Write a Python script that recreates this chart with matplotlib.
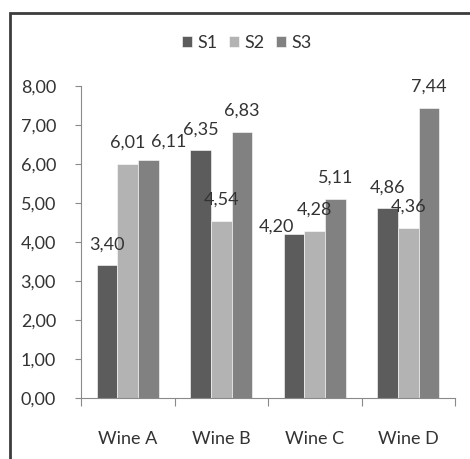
import matplotlib
matplotlib.use('Agg')
import matplotlib.pyplot as plt
import matplotlib.patches as patches
import numpy as np

# data
wines = ['Wine A', 'Wine B', 'Wine C', 'Wine D']
series_names = ['S1', 'S2', 'S3']
s1 = [3.40, 6.35, 4.20, 4.86]
s2 = [6.01, 4.54, 4.28, 4.36]
s3 = [6.11, 6.83, 5.11, 7.44]
yticks = [0, 1, 2, 3, 4, 5, 6, 7, 8]

colors = ['#5c5c5c', '#b3b3b3', '#818181']
text_col = '#333333'
axis_col = '#8a8a8a'

plt.rcParams['font.family'] = ['Lato', 'DejaVu Sans']

W, H = 470, 459
fig = plt.figure(figsize=(W / 100, H / 100), dpi=100)
ax = fig.add_axes([81 / W, 1 - 398 / H, (455 - 81) / W, (398 - 86) / H])

# outer frame, cut off at right and bottom like the reference
frame = patches.Rectangle((10 / W, -0.05), 1.1, 1 - 13 / H + 0.05, transform=fig.transFigure,
                          fill=False, edgecolor='#3c3c3c', linewidth=2, clip_on=False)
fig.add_artist(frame)

x = np.arange(len(wines))
width = 0.222
all_series = [s1, s2, s3]
# label nudges (pixels) for the two labels that Excel moved by hand
nudge = {(0, 2): (20, -3), (2, 0): (-18, -13)}

for k, vals in enumerate(all_series):
    bars = ax.bar(x + (k - 1) * width, vals, width, color=colors[k], label=series_names[k],
                  edgecolor='white', linewidth=0.4)
    for i, b in enumerate(bars):
        dx, dy = nudge.get((i, k), (0, 0))
        ax.annotate(('%.2f' % vals[i]).replace('.', ','),
                    (b.get_x() + b.get_width() / 2, b.get_height()),
                    xytext=(dx * 0.72, (21 + dy) * 0.72), textcoords='offset points',
                    ha='center', va='center', fontsize=13, color=text_col)

ax.set_xlim(-0.5, len(wines) - 0.5)
ax.set_ylim(0, 8)
ax.set_yticks(yticks)
ax.set_yticklabels(['%d,00' % t for t in yticks])
ax.set_xticks(np.arange(len(wines) + 1) - 0.5)
ax.set_xticklabels([])
ax.set_xticks(x, minor=True)
ax.set_xticklabels(wines, minor=True)
ax.tick_params(axis='x', which='major', length=6, color=axis_col)
ax.tick_params(axis='x', which='minor', length=0, pad=24, labelsize=13, labelcolor=text_col)
ax.tick_params(axis='y', length=4, color=axis_col, pad=14, labelsize=13, labelcolor=text_col)
for s in ['top', 'right']:
    ax.spines[s].set_visible(False)
for s in ['left', 'bottom']:
    ax.spines[s].set_color(axis_col)

leg = fig.legend(loc='center', bbox_to_anchor=(247 / W, 1 - 43 / H), ncol=3, frameon=False,
                 fontsize=13, handlelength=0.55, handleheight=0.55, handletextpad=0.3,
                 columnspacing=0.65, labelcolor=text_col)

fig.savefig('out.png', dpi=100)
